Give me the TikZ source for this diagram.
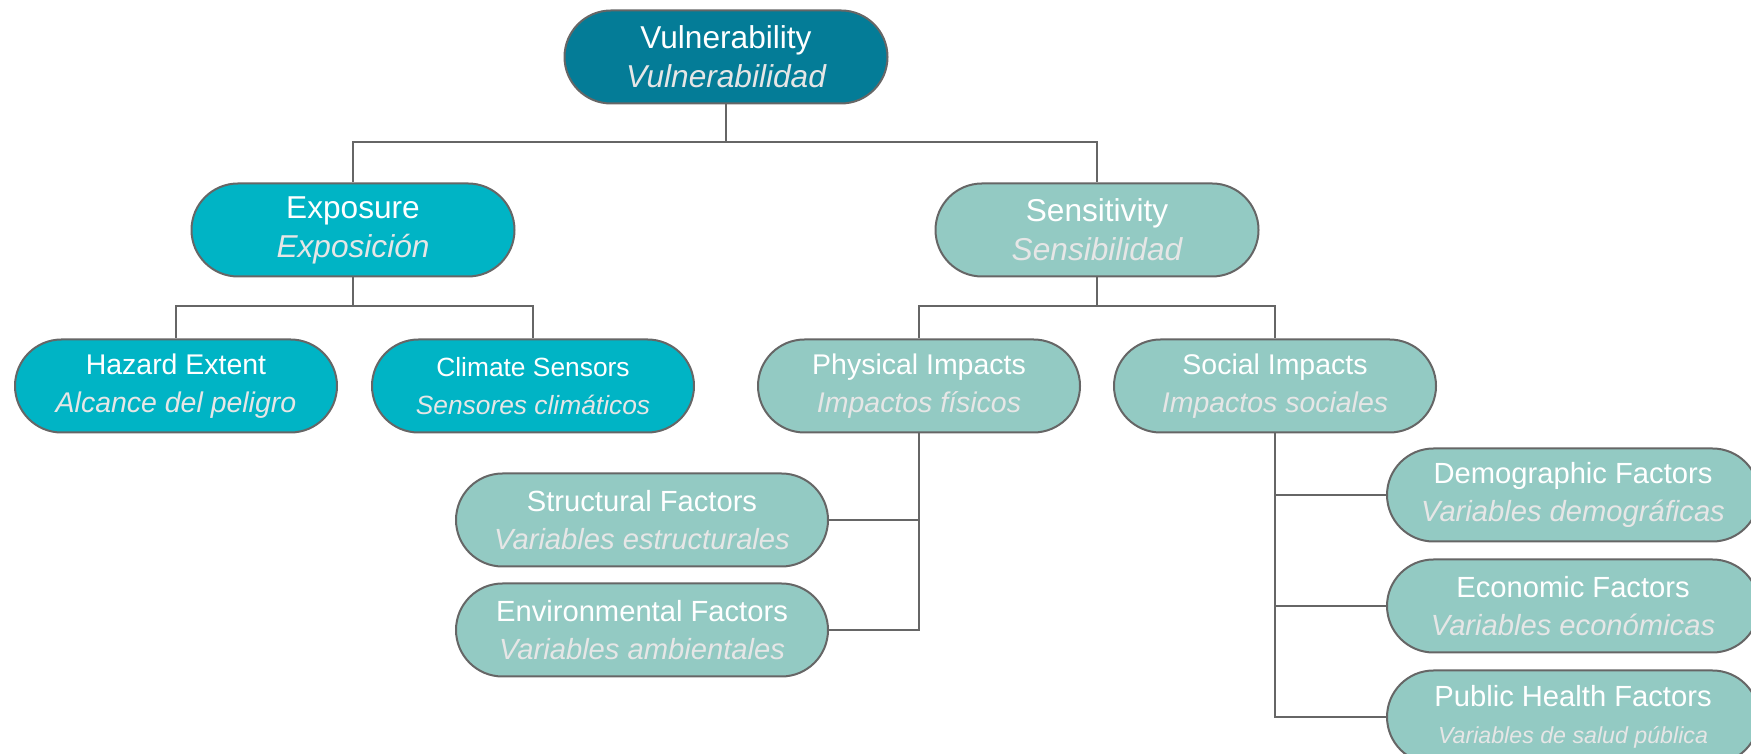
\documentclass[tikz,border=0pt]{standalone}
\usepackage{fontspec}
\setmainfont{Liberation Sans}
\usetikzlibrary{positioning}

\definecolor{vulblue}{HTML}{047C97}
\definecolor{expblue}{HTML}{00B4C5}
\definecolor{sengreen}{HTML}{93CAC3}
\definecolor{linegray}{HTML}{666666}
\definecolor{subgray}{HTML}{E6E6E6}

\newcommand{\subline}[1]{{\color{subgray}\itshape #1}}

\tikzset{
  pill/.style={draw=linegray, line width=0.2mm, rounded corners=4.65mm,
    minimum height=9.3mm, inner sep=0pt, align=center, text=white},
  toppill/.style={pill, minimum width=32.3mm, font=\fontsize{9}{11.1}\selectfont},
  midpill/.style={pill, minimum width=32.2mm, font=\fontsize{8.1}{10.7}\selectfont},
  factpill/.style={pill, minimum width=37.2mm, font=\fontsize{8.3}{10.7}\selectfont},
  link/.style={draw=linegray, line width=0.2mm}
}

\begin{document}
\begin{tikzpicture}[x=0.1mm,y=-0.1mm]
  \useasboundingbox (0,0) rectangle (1751,754);
  \clip (0,0) rectangle (1751,754);
  % Place nodes
  \node [toppill, fill=vulblue] (vul) at (726,57) {Vulnerability\\\subline{Vulnerabilidad}};
  \node [toppill, fill=expblue] (exp) at (353,230) {Exposure\\\subline{Exposición}};
  \node [toppill, fill=sengreen] (sen) at (1097,230) {Sensitivity\\\subline{Sensibilidad}};
  \node [midpill, fill=expblue] (haz) at (176,386) {Hazard Extent\\\subline{Alcance del peligro}};
  \node [midpill, fill=expblue, right=3.3mm of haz, font=\fontsize{7.5}{10.7}\selectfont] (cli) {Climate Sensors\\\subline{Sensores climáticos}};
  \node [midpill, fill=sengreen] (phy) at (919,386) {Physical Impacts\\\subline{Impactos físicos}};
  \node [midpill, fill=sengreen, right=3.2mm of phy] (soc) {Social Impacts\\\subline{Impactos sociales}};
  \node [factpill, fill=sengreen] (str) at (642,520) {Structural Factors\\\subline{Variables estructurales}};
  \node [factpill, fill=sengreen, below=1.5mm of str] (env) {Environmental Factors\\\subline{Variables ambientales}};
  \node [factpill, fill=sengreen] (dem) at (1573,495) {Demographic Factors\\\subline{Variables demográficas}};
  \node [factpill, fill=sengreen, below=1.6mm of dem] (eco) {Economic Factors\\\subline{Variables económicas}};
  \node [factpill, fill=sengreen, below=1.6mm of eco] (pub) {Public Health Factors\\{\fontsize{6.6}{10.7}\selectfont\subline{Variables de salud pública}}};

  % Connect them
  \draw [link] (vul.south) -- (vul.south |- 0,142) -| (exp.north);
  \draw [link] (vul.south |- 0,142) -| (sen.north);
  \draw [link] (exp.south) -- (exp.south |- 0,306) -| (haz.north);
  \draw [link] (exp.south |- 0,306) -| (cli.north);
  \draw [link] (sen.south) -- (sen.south |- 0,306) -| (phy.north);
  \draw [link] (sen.south |- 0,306) -| (soc.north);
  \draw [link] (phy.south) |- (str.east);
  \draw [link] (phy.south) |- (env.east);
  \foreach \f in {dem,eco,pub}
    \draw [link] (soc.south) |- (\f.west);
\end{tikzpicture}
\end{document}
